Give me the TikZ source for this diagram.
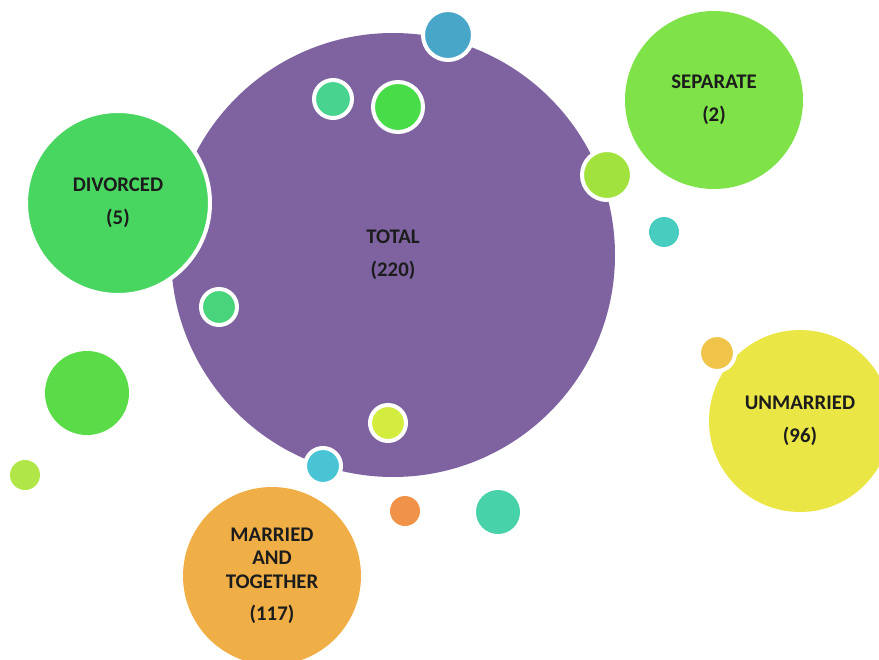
\documentclass[tikz,border=0pt]{standalone}
\usepackage{fontspec}
\setmainfont{Carlito}
\usepackage{tikz}
\definecolor{totalpurple}{RGB}{126,99,160}
\definecolor{divgreen}{RGB}{72,214,96}
\definecolor{sepgreen}{RGB}{126,226,72}
\definecolor{unmyellow}{RGB}{234,230,70}
\definecolor{marorange}{RGB}{240,175,70}
\definecolor{limedot}{RGB}{162,226,62}
\definecolor{tealdot}{RGB}{72,204,192}
\definecolor{bluedot}{RGB}{72,166,200}
\definecolor{mintdot}{RGB}{72,212,142}
\definecolor{grassdot}{RGB}{72,220,72}
\definecolor{leafdot}{RGB}{72,212,122}
\definecolor{citrusdot}{RGB}{212,236,62}
\definecolor{cyandot}{RGB}{72,196,212}
\definecolor{orangedot}{RGB}{240,146,72}
\definecolor{jadedot}{RGB}{72,210,170}
\definecolor{golddot}{RGB}{240,196,72}
\definecolor{fieldgreen}{RGB}{90,220,72}
\definecolor{applegreen}{RGB}{176,230,72}
\definecolor{labeltext}{RGB}{28,28,28}
\tikzset{
  bubble/.style={circle, inner sep=0pt, minimum size=#1*1.5pt, align=center,
    font=\bfseries\fontsize{15.6}{17.5}\selectfont, text=labeltext},
  ring/.style={draw=white, line width=3pt}
}
\begin{document}
\begin{tikzpicture}[x=0.75pt,y=-0.75pt]
\useasboundingbox (0,0) rectangle (879,660);
% the total
\node (total) at (393,255) [bubble=222, fill=totalpurple]{TOTAL\\[7pt](220)};
% categories
\node (divorced) at (118,203) [bubble=92, ring, fill=divgreen]{DIVORCED\\[7pt](5)};
\node (separate) at (714,100) [bubble=89, fill=sepgreen]{SEPARATE\\[7pt](2)};
\node (unmarried) at (800,421) [bubble=91, fill=unmyellow]{UNMARRIED\\[7pt](96)};
\node (married) at (272,576) [bubble=89, fill=marorange]{MARRIED\\AND\\TOGETHER\\[7pt](117)};
% small dots
\node (topdot) at (448,35) [bubble=25, ring, fill=bluedot]{};
\node (mintin) at (333,99) [bubble=19, ring, fill=mintdot]{};
\node (grassin) at (398,107) [bubble=25, ring, fill=grassdot]{};
\node (sepdot) at (607,175) [bubble=25, ring, fill=limedot]{};
\node (tealout) at (664,232) [bubble=15, fill=tealdot]{};
\node (leafin) at (219,307) [bubble=18, ring, fill=leafdot]{};
\node (citrusin) at (388,423) [bubble=18, ring, fill=citrusdot]{};
\node (cyanedge) at (323,466) [bubble=18, ring, fill=cyandot]{};
\node (orangeout) at (405,511) [bubble=15, fill=orangedot]{};
\node (jadeout) at (498,512) [bubble=22, fill=jadedot]{};
\node (golddot) at (717,353) [bubble=18, ring, fill=golddot]{};
\node (fieldout) at (87,393) [bubble=42, fill=fieldgreen]{};
\node (appleout) at (25,475) [bubble=15, fill=applegreen]{};
\end{tikzpicture}
\end{document}
